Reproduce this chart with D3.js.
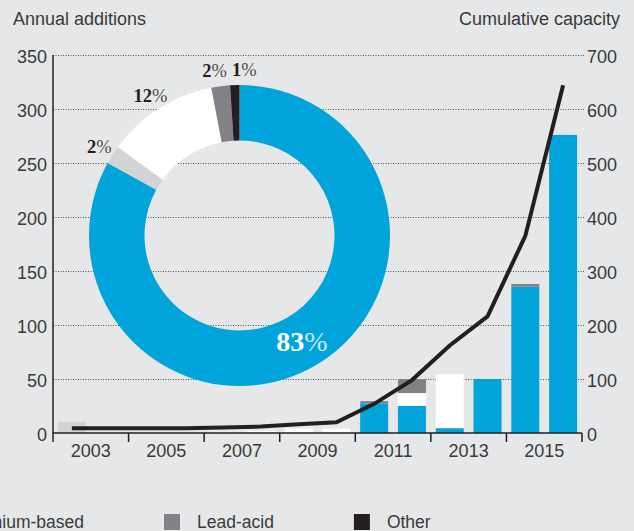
<!DOCTYPE html>
<html><head><meta charset="utf-8">
<script src="https://cdn.jsdelivr.net/npm/d3@7"></script>
<style>body{margin:0;background:#e6e7e8;} svg{display:block;}</style>
</head><body><svg id="c" width="634" height="531"></svg>
<script>
// ---- data ----
const years = [2002,2003,2004,2005,2006,2007,2008,2009,2010,2011,2012,2013,2014,2015];
const xLabels = [2003,2005,2007,2009,2011,2013,2015];
const xTicks = [2004,2006,2008,2010,2012,2014,2016];
const leftTicks = [0,50,100,150,200,250,300,350];
const rightTicks = [0,100,200,300,400,500,600,700];
const seriesNames = ["Lithium-based","Sodium-based","Flow batteries","Lead-acid","Other"];
const lithium  = [0,0,0,0,0,0,0,0,27.5,25,4.5,50,135.5,276];
const sodium   = [10,0,0,0,0,0,0,0,0,0,0,0,0,0];
const flow     = [0,0,0,0,1,2,4,4,0,12,50,0,0,0];
const leadAcid = [0,0,0,0,0,0,0,0,2,13,0,0,2.5,0];
const other    = [0,0,0,0,0,0,0,0,0,0,0,0,0,0];
const cumulative = [9,9,9,9,10,12,16,20,54,98,162,216,365,644];
const shares = [83,2,12,2,1];
const legendNames = ["Lithium-based","Lead-acid","Other"];
const legendKeys = [0,3,4];

// ---- styles ----
const colors = ["#00a4db","#d1d3d4","#ffffff","#808285","#231f20"];
const textCol = "#3a3a3a";
const sans = "'Liberation Sans', Arial, sans-serif";
const serif = "'Liberation Serif', 'Times New Roman', serif";

const svg = d3.select("#c");
svg.append("rect").attr("width",634).attr("height",531).attr("fill","#e6e7e8");

const x = d3.scaleLinear().domain([2002,2016]).range([53,582]);
const yL = d3.scaleLinear().domain([0,350]).range([433,55]);
const yR = d3.scaleLinear().domain([0,700]).range([433,55]);

// titles
svg.append("text").attr("x",13).attr("y",25).text("Annual additions")
  .attr("font-family",sans).attr("font-size",18).attr("fill",textCol);
svg.append("text").attr("x",620).attr("y",25).attr("text-anchor","end").text("Cumulative capacity")
  .attr("font-family",sans).attr("font-size",18).attr("fill",textCol);

// gridlines
const grid = svg.append("g");
grid.selectAll("line").data(leftTicks.filter(d=>d>0)).join("line")
  .attr("x1",53).attr("x2",584).attr("y1",d=>yL(d)+0.5).attr("y2",d=>yL(d)+0.5)
  .attr("stroke","#555").attr("stroke-width",1).attr("stroke-dasharray","1,1.5");

// left labels
svg.append("g").selectAll("text").data(leftTicks).join("text")
  .attr("x",47).attr("y",d=>yL(d)+8).attr("text-anchor","end").text(d=>d)
  .attr("font-family",sans).attr("font-size",18).attr("fill",textCol);
// right labels
svg.append("g").selectAll("text").data(rightTicks).join("text")
  .attr("x",587).attr("y",d=>yR(d)+8).text(d=>d)
  .attr("font-family",sans).attr("font-size",18).attr("fill",textCol);

// bars
const rows = years.map((yr,i)=>({year:yr, s0:lithium[i], s1:sodium[i], s2:flow[i], s3:leadAcid[i], s4:other[i]}));
const stack = d3.stack().keys(["s0","s1","s2","s3","s4"])(rows);
const bw = x(2003)-x(2002), pad = 4.9;
svg.append("g").selectAll("g").data(stack).join("g").attr("fill",(d,i)=>colors[i])
  .selectAll("rect").data(d=>d).join("rect")
  .attr("x",d=>x(d.data.year)+pad).attr("width",bw-2*pad)
  .attr("y",d=>yL(d[1])).attr("height",d=>Math.max(0,yL(d[0])-yL(d[1])));

// donut
const cx = 239.5, cy = 235.5, r0 = 95, r1 = 150.5;
const pie = d3.pie().sort(null).value(d=>d)(shares);
const arc = d3.arc().innerRadius(r0).outerRadius(r1);
const dg = svg.append("g").attr("transform",`translate(${cx},${cy})`);
dg.selectAll("path").data(pie).join("path").attr("d",arc).attr("fill",(d,i)=>colors[i]);

// donut labels
const nudge = [[0,0],[0,0],[0,0],[-4,0],[10,0]];
pie.forEach((p,i)=>{
  const a = (p.startAngle+p.endAngle)/2;
  let px, py, size, col;
  if(i===0){ const c = arc.centroid(p); px=c[0]; py=c[1]; size=28; col="#fff"; }
  else { const rr=166; px=Math.sin(a)*rr; py=-Math.cos(a)*rr; size=18.5; col="#231f20"; }
  px += nudge[i][0]; py += nudge[i][1];
  const t = dg.append("text").attr("x",px).attr("y",py).attr("dy","0.35em").attr("text-anchor","middle")
    .attr("font-family",serif).attr("font-size",size).attr("fill",col);
  t.append("tspan").attr("font-weight","bold").text(shares[i]);
  t.append("tspan").attr("font-weight","normal").attr("fill-opacity",0.8).text("%");
});

// cumulative line
const line = d3.line().x((d,i)=>x(years[i]+0.5)).y(d=>yR(d));
svg.append("path").datum(cumulative).attr("d",line).attr("fill","none")
  .attr("stroke","#231f20").attr("stroke-width",4);

// axes lines
const ax = svg.append("g").attr("stroke","#231f20").attr("stroke-width",1.5);
ax.append("line").attr("x1",53).attr("x2",53).attr("y1",55).attr("y2",442);
ax.append("line").attr("x1",53).attr("x2",x(2016)).attr("y1",433).attr("y2",433);
ax.selectAll(".t").data(xTicks).join("line").attr("class","t")
  .attr("x1",d=>x(d)).attr("x2",d=>x(d)).attr("y1",433).attr("y2",442);
svg.append("g").selectAll("text").data(xLabels).join("text")
  .attr("x",d=>x(d)).attr("y",457).attr("text-anchor","middle").text(d=>d)
  .attr("font-family",sans).attr("font-size",18).attr("fill",textCol);

// legend
const lg = svg.append("g");
let cursor = null;
const sw = 16, gapT = 33, gapItem = 80;
legendNames.forEach((name,i)=>{
  const t = lg.append("text").attr("y",528).text(name)
    .attr("font-family",sans).attr("font-size",17.5).attr("fill",textCol);
  const w = t.node().getComputedTextLength();
  let tx;
  if(cursor===null){ tx = 84 - w; cursor = 84; }
  else { tx = cursor + gapItem + gapT; }
  t.attr("x",tx);
  lg.append("rect").attr("x",tx-gapT).attr("y",514).attr("width",sw).attr("height",sw).attr("fill",colors[legendKeys[i]]);
  cursor = tx + w;
});
</script></body></html>
